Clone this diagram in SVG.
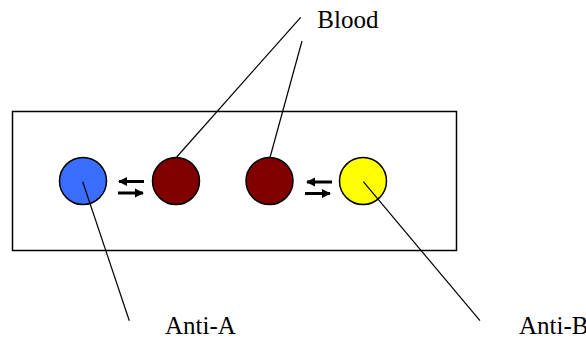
<svg xmlns="http://www.w3.org/2000/svg" width="586" height="338" viewBox="0 0 586 338">
<style>
.lbl{font-family:"Liberation Serif","Times New Roman",serif;font-size:25px;fill:#000}
.c{stroke:#000;stroke-width:1.5}
.ln{stroke:#000;stroke-width:1.2;fill:none}
.ar{stroke:#000;stroke-width:3;fill:none}
</style>
<defs>
<marker id="ah" viewBox="0 0 10 10" refX="9" refY="5" markerWidth="3" markerHeight="3.2" orient="auto" markerUnits="strokeWidth">
<path d="M0,0 L10,5 L0,10 Z" fill="#000"/>
</marker>
</defs>
<rect x="12.5" y="111.5" width="444" height="139" fill="#fff" stroke="#000" stroke-width="1.5"/>
<g id="anti-a-well"><circle class="c" cx="83" cy="181" r="23.5" fill="#3A6EFF"/></g>
<g id="blood-1"><circle class="c" cx="176" cy="181" r="23.5" fill="#800000"/></g>
<g id="blood-2"><circle class="c" cx="269.5" cy="181" r="23.5" fill="#800000"/></g>
<g id="anti-b-well"><circle class="c" cx="363" cy="181" r="23.5" fill="#FFFF00"/></g>
<g id="connectors">
<line class="ar" x1="144" y1="181.5" x2="119" y2="181.5" marker-end="url(#ah)"/>
<line class="ar" x1="118" y1="193" x2="143" y2="193" marker-end="url(#ah)"/>
<line class="ar" x1="332" y1="182" x2="307" y2="182" marker-end="url(#ah)"/>
<line class="ar" x1="305" y1="193.5" x2="330" y2="193.5" marker-end="url(#ah)"/>
<line class="ln" x1="300.7" y1="17.3" x2="176.7" y2="157"/>
<line class="ln" x1="302" y1="41" x2="270" y2="157.5"/>
<line class="ln" x1="82.7" y1="181.7" x2="129.3" y2="320.7"/>
<line class="ln" x1="363.3" y1="181.7" x2="480" y2="320.7"/>
</g>
<g id="label-blood"><text class="lbl" x="317.3" y="28">Blood</text></g>
<g id="label-anti-a"><text class="lbl" x="165" y="334">Anti-A</text></g>
<g id="label-anti-b"><text class="lbl" x="519" y="334">Anti-B</text></g>
</svg>
